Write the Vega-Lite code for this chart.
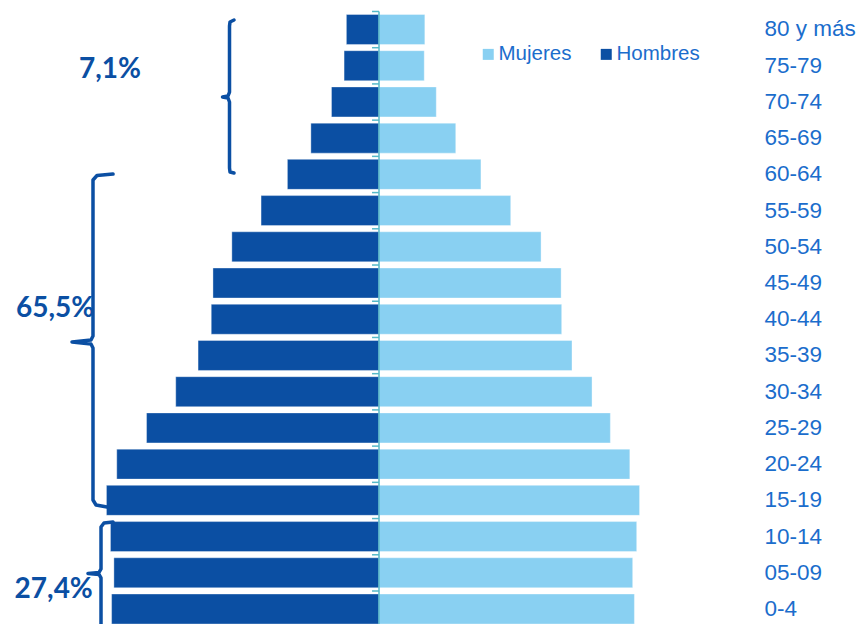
{
  "$schema": "https://vega.github.io/schema/vega-lite/v6.json",
  "width": 757,
  "height": 624,
  "padding": 0,
  "autosize": {"type": "pad"},
  "background": "white",
  "config": {"view": {"stroke": null}, "font": "Liberation Sans"},
  "datasets": {
    "pop": [
      {"age": "80 y más", "sex": "Hombres", "value": -0.57},
      {"age": "75-79", "sex": "Hombres", "value": -0.61},
      {"age": "70-74", "sex": "Hombres", "value": -0.83},
      {"age": "65-69", "sex": "Hombres", "value": -1.19},
      {"age": "60-64", "sex": "Hombres", "value": -1.60},
      {"age": "55-59", "sex": "Hombres", "value": -2.06},
      {"age": "50-54", "sex": "Hombres", "value": -2.57},
      {"age": "45-49", "sex": "Hombres", "value": -2.90},
      {"age": "40-44", "sex": "Hombres", "value": -2.93},
      {"age": "35-39", "sex": "Hombres", "value": -3.16},
      {"age": "30-34", "sex": "Hombres", "value": -3.55},
      {"age": "25-29", "sex": "Hombres", "value": -4.06},
      {"age": "20-24", "sex": "Hombres", "value": -4.58},
      {"age": "15-19", "sex": "Hombres", "value": -4.76},
      {"age": "10-14", "sex": "Hombres", "value": -4.69},
      {"age": "05-09", "sex": "Hombres", "value": -4.63},
      {"age": "0-4", "sex": "Hombres", "value": -4.67},
      {"age": "80 y más", "sex": "Mujeres", "value": 0.80},
      {"age": "75-79", "sex": "Mujeres", "value": 0.79},
      {"age": "70-74", "sex": "Mujeres", "value": 1.00},
      {"age": "65-69", "sex": "Mujeres", "value": 1.34},
      {"age": "60-64", "sex": "Mujeres", "value": 1.78},
      {"age": "55-59", "sex": "Mujeres", "value": 2.30},
      {"age": "50-54", "sex": "Mujeres", "value": 2.83},
      {"age": "45-49", "sex": "Mujeres", "value": 3.18},
      {"age": "40-44", "sex": "Mujeres", "value": 3.19},
      {"age": "35-39", "sex": "Mujeres", "value": 3.37},
      {"age": "30-34", "sex": "Mujeres", "value": 3.72},
      {"age": "25-29", "sex": "Mujeres", "value": 4.04},
      {"age": "20-24", "sex": "Mujeres", "value": 4.38},
      {"age": "15-19", "sex": "Mujeres", "value": 4.55},
      {"age": "10-14", "sex": "Mujeres", "value": 4.50},
      {"age": "05-09", "sex": "Mujeres", "value": 4.43},
      {"age": "0-4", "sex": "Mujeres", "value": 4.46}
    ],
    "axisline": [{"top": "80 y más", "bottom": "0-4", "value": 0}],
    "brackets": [
      {"id": "a", "o": 1, "x": -2.532, "y": -0.262},
      {"id": "a", "o": 2, "x": -2.602, "y": -0.207},
      {"id": "a", "o": 3, "x": -2.611, "y": -0.097},
      {"id": "a", "o": 4, "x": -2.611, "y": 1.726},
      {"id": "a", "o": 5, "x": -2.637, "y": 1.836},
      {"id": "a", "o": 6, "x": -2.733, "y": 1.864},
      {"id": "a", "o": 7, "x": -2.637, "y": 1.891},
      {"id": "a", "o": 8, "x": -2.611, "y": 2.002},
      {"id": "a", "o": 9, "x": -2.611, "y": 3.824},
      {"id": "a", "o": 10, "x": -2.602, "y": 3.934},
      {"id": "a", "o": 11, "x": -2.532, "y": 3.962},
      {"id": "b", "o": 1, "x": -4.645, "y": 3.990},
      {"id": "b", "o": 2, "x": -4.925, "y": 4.031},
      {"id": "b", "o": 3, "x": -4.995, "y": 4.155},
      {"id": "b", "o": 4, "x": -4.995, "y": 8.462},
      {"id": "b", "o": 5, "x": -5.030, "y": 8.573},
      {"id": "b", "o": 6, "x": -5.361, "y": 8.628},
      {"id": "b", "o": 7, "x": -5.030, "y": 8.683},
      {"id": "b", "o": 8, "x": -4.995, "y": 8.794},
      {"id": "b", "o": 9, "x": -4.995, "y": 12.990},
      {"id": "b", "o": 10, "x": -4.942, "y": 13.128},
      {"id": "b", "o": 11, "x": -4.750, "y": 13.183},
      {"id": "c", "o": 1, "x": -4.645, "y": 13.598},
      {"id": "c", "o": 2, "x": -4.803, "y": 13.625},
      {"id": "c", "o": 3, "x": -4.855, "y": 13.736},
      {"id": "c", "o": 4, "x": -4.855, "y": 14.895},
      {"id": "c", "o": 5, "x": -4.890, "y": 14.992},
      {"id": "c", "o": 6, "x": -5.082, "y": 15.019},
      {"id": "c", "o": 7, "x": -4.890, "y": 15.047},
      {"id": "c", "o": 8, "x": -4.855, "y": 15.143},
      {"id": "c", "o": 9, "x": -4.855, "y": 16.855}
    ],
    "notes": [
      {"label": "7,1%", "x": -4.698, "y": 1.339},
      {"label": "65,5%", "x": -5.658, "y": 7.929},
      {"label": "27,4%", "x": -5.681, "y": 15.688}
    ]
  },
  "layer": [
    {
      "layer": [
        {
          "data": {"name": "pop"},
          "mark": {"type": "bar", "stroke": "white", "strokeWidth": 0.6, "strokeOpacity": 0.6},
          "encoding": {
            "y": {
              "field": "age", "type": "nominal", "sort": null,
              "scale": {
                "domain": ["80 y más","75-79","70-74","65-69","60-64","55-59","50-54","45-49","40-44","35-39","30-34","25-29","20-24","15-19","10-14","05-09","0-4"],
                "paddingInner": 0.172, "paddingOuter": 0.2, "align": 1
              },
              "axis": {
                "orient": "right", "title": null, "domain": false, "ticks": false, "tickSize": 0,
                "labelPadding": 7, "labelFontSize": 22.5, "labelColor": "#1b6dcc",
                "labelFont": "Liberation Sans", "labelAlign": "left"
              }
            },
            "x": {
              "field": "value", "type": "quantitative", "stack": null,
              "scale": {"domain": [-6.619, 6.601], "nice": false, "zero": false},
              "axis": null
            },
            "color": {
              "field": "sex", "type": "nominal",
              "scale": {"domain": ["Mujeres", "Hombres"], "range": ["#89d0f2", "#0b4fa3"]},
              "legend": {
                "orient": "none", "legendX": 478, "legendY": 44, "direction": "horizontal",
                "title": null, "padding": 0, "symbolType": "square", "symbolSize": 121,
                "symbolStrokeWidth": 0, "labelFontSize": 20.5, "labelFont": "Liberation Sans",
                "labelColor": "#1b6dcc", "labelOffset": 0, "columnPadding": 24
              }
            }
          }
        },
        {
          "data": {"name": "pop"},
          "transform": [{"filter": "datum.sex == 'Hombres'"}],
          "mark": {"type": "rule", "color": "#56b9c8", "strokeWidth": 1.5, "yOffset": -18},
          "encoding": {
            "y": {"field": "age", "type": "nominal", "sort": null},
            "x": {"datum": -0.122, "type": "quantitative"},
            "x2": {"datum": 0}
          }
        },
        {
          "data": {"name": "axisline"},
          "mark": {"type": "rule", "color": "#56b9c8", "strokeWidth": 1.5, "yOffset": -18, "y2Offset": 15},
          "encoding": {
            "y": {"field": "top", "type": "nominal", "sort": null},
            "y2": {"field": "bottom"},
            "x": {"field": "value", "type": "quantitative"}
          }
        }
      ]
    },
    {
      "layer": [
        {
          "data": {"name": "brackets"},
          "mark": {"type": "line", "color": "#0b4fa3", "strokeWidth": 3.5, "strokeCap": "round", "strokeJoin": "round", "clip": true},
          "encoding": {
            "x": {"field": "x", "type": "quantitative"},
            "y": {"field": "y", "type": "quantitative", "scale": {"domain": [-0.8145, 16.414], "reverse": true, "nice": false, "zero": false}, "axis": null},
            "detail": {"field": "id"},
            "order": {"field": "o", "type": "quantitative"}
          }
        },
        {
          "data": {"name": "notes"},
          "mark": {"type": "text", "font": "Lato", "fontWeight": "bold", "fontSize": 28, "color": "#0b4fa3", "align": "center", "baseline": "alphabetic"},
          "encoding": {
            "x": {"field": "x", "type": "quantitative"},
            "y": {"field": "y", "type": "quantitative"},
            "text": {"field": "label"}
          }
        }
      ]
    }
  ],
  "resolve": {"scale": {"y": "independent"}, "axis": {"y": "independent"}}
}
